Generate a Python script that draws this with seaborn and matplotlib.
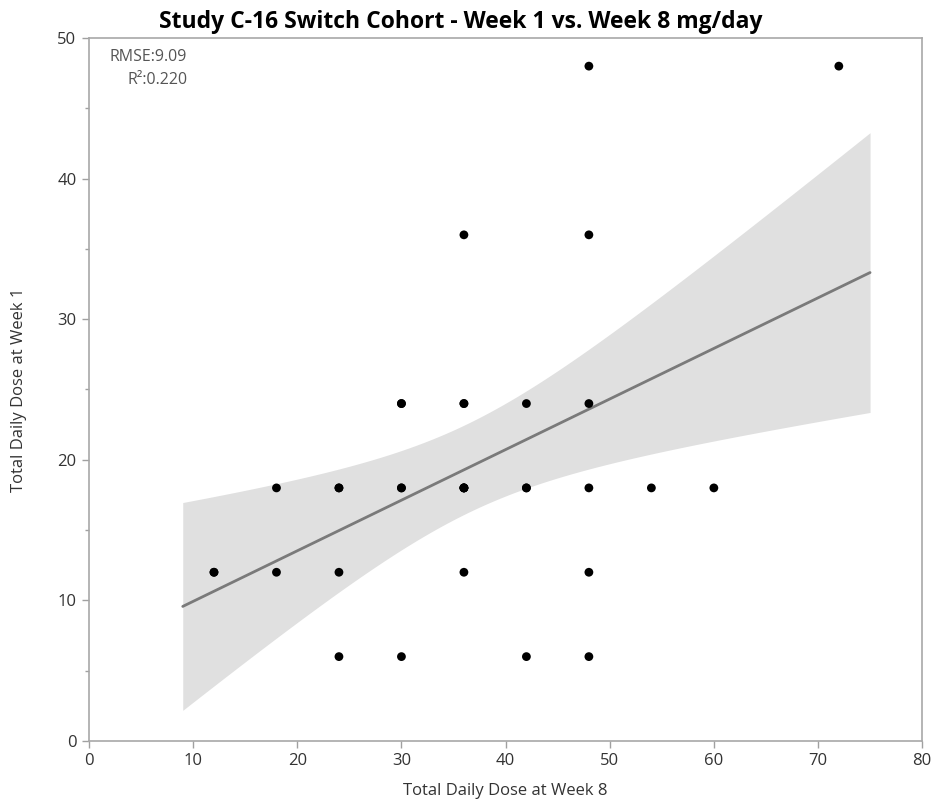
import numpy as np
import pandas as pd
import seaborn as sns
import matplotlib
matplotlib.use('Agg')
import matplotlib.pyplot as plt
from matplotlib.ticker import MultipleLocator

# ---- data (overlapping duplicates via counts) ----
week8 = [12, 18, 18, 24, 24, 24, 30, 30, 30, 36, 36, 36, 36, 42, 42, 42,
         48, 48, 48, 48, 48, 48, 54, 60, 72]
week1 = [12, 18, 12, 18, 12, 6, 24, 18, 6, 36, 24, 18, 12, 24, 18, 6,
         48, 36, 24, 18, 12, 6, 18, 18, 48]
counts = [2, 1, 1, 2, 1, 1, 2, 2, 1, 1, 2, 4, 1, 1, 2, 1,
          1, 1, 1, 1, 1, 1, 1, 1, 1]
x_ticks = [0, 10, 20, 30, 40, 50, 60, 70, 80]
y_ticks = [0, 10, 20, 30, 40, 50]
title = "Study C-16 Switch Cohort - Week 1 vs. Week 8 mg/day"
x_label = "Total Daily Dose at Week 8"
y_label = "Total Daily Dose at Week 1"
fit_range = [9, 75]

df = pd.DataFrame({"week8": np.repeat(week8, counts),
                   "week1": np.repeat(week1, counts)})

# ---- linear fit with 95% confidence band for the mean ----
x = df["week8"].to_numpy(float)
y = df["week1"].to_numpy(float)
n = len(x)
mx, my = x.mean(), y.mean()
Sxx = ((x - mx) ** 2).sum()
Sxy = ((x - mx) * (y - my)).sum()
Syy = ((y - my) ** 2).sum()
b = Sxy / Sxx
a = my - b * mx
sse = Syy - b * Sxy
r2 = 1 - sse / Syy
rmse = np.sqrt(sse / (n - 2))
try:
    from scipy import stats
    tval = stats.t.ppf(0.975, n - 2)
except Exception:
    tval = 2.037
xs = np.linspace(fit_range[0], fit_range[1], 300)
yhat = a + b * xs
half = tval * rmse * np.sqrt(1.0 / n + (xs - mx) ** 2 / Sxx)
fit_df = pd.DataFrame({"x": xs, "y": yhat})

# ---- plot ----
sns.set_theme(style="white")
plt.rcParams['font.family'] = ['Open Sans', 'DejaVu Sans']

fig = plt.figure(figsize=(9.4, 8.02), dpi=100)
ax = fig.add_axes([0.0947, 0.0761, 0.8863, 0.8765])

ax.fill_between(xs, yhat - half, yhat + half, color="#e0e0e0", linewidth=0, zorder=1)
sns.lineplot(data=fit_df, x="x", y="y", ax=ax, color="#7a7a7a", linewidth=2.0, zorder=2)
sns.scatterplot(data=df, x="week8", y="week1", ax=ax, color="black", s=40,
                edgecolor="none", zorder=3)

ax.set_xlim(0, 80)
ax.set_ylim(0, 50)
ax.set_xticks(x_ticks)
ax.set_yticks(y_ticks)
ax.yaxis.set_minor_locator(MultipleLocator(5))
ax.tick_params(axis="both", which="major", direction="out", length=5, width=1,
               color="#a0a0a0", labelsize=12, labelcolor="#333333",
               bottom=True, left=True, pad=4)
ax.tick_params(axis="y", which="minor", direction="out", length=3, width=1,
               color="#a0a0a0", left=True)
for sp in ax.spines.values():
    sp.set_color("#a8a8a8")
    sp.set_linewidth(1.2)

ax.set_xlabel(x_label, fontsize=12, color="#333333", labelpad=10)
ax.set_ylabel(y_label, fontsize=12, color="#333333", labelpad=22)

fig.text(0.49, 0.957, title, ha="center", va="bottom", fontsize=16.5,
         fontweight="bold", color="black")

ax.text(0.118, 0.985, f"RMSE:{rmse:.2f}", transform=ax.transAxes,
        ha="right", va="top", fontsize=11.5, color="#555555")
ax.text(0.118, 0.951, f"R\u00b2:{r2:.3f}", transform=ax.transAxes,
        ha="right", va="top", fontsize=11.5, color="#555555")

fig.savefig("out.png", dpi=100, facecolor="white")
